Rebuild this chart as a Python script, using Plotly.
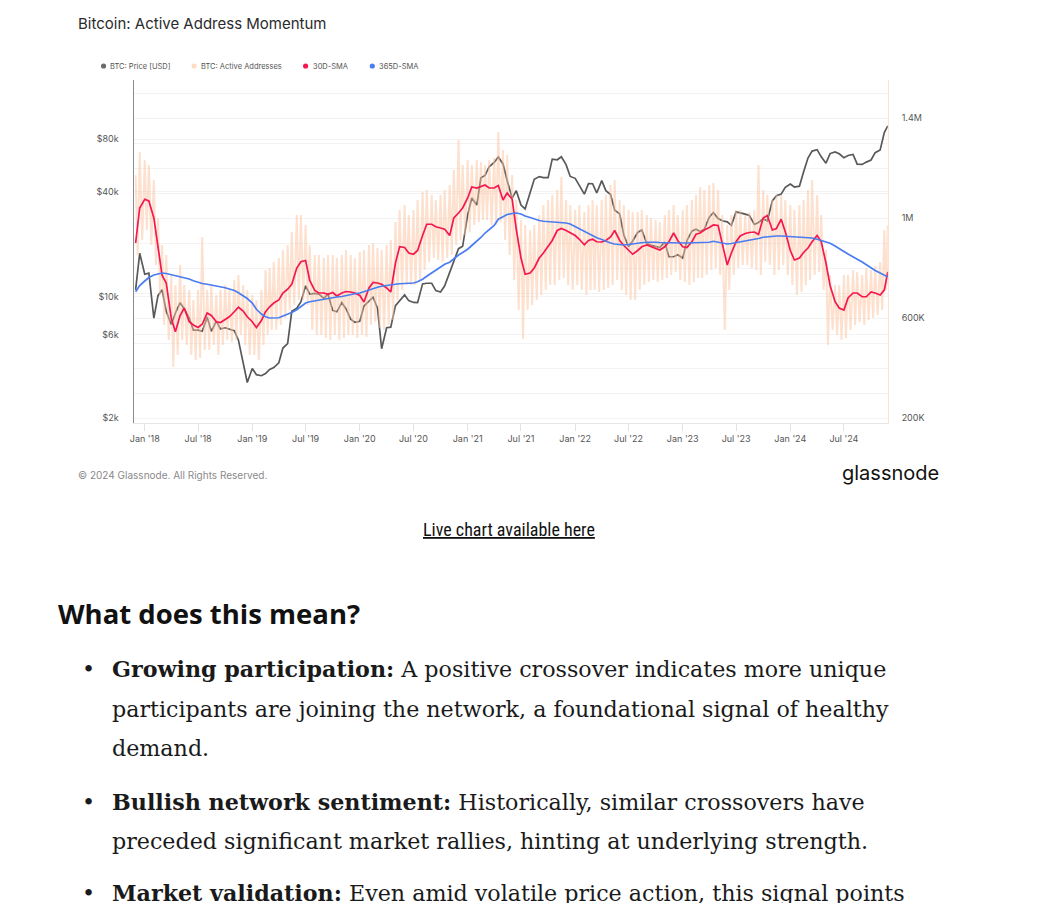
import pandas as pd
import plotly.graph_objects as go

# page body has an 8px margin: the figure is placed at (8, 8) in the window
OX, OY = 8, 8
W, H = 1053, 895


def px(x):
    return (x - OX) / W


def py(y):
    return 1 - (y - OY) / H


# ---------------- data (semi-monthly grid: 1st & 15th, plus final day) ----------------
dates = list(pd.date_range("2017-12-01", "2024-11-15", freq="SMS")) + [pd.Timestamp("2024-11-27")]

price_usd = [
    10900, 17700,
    13400, 13600, 7500, 10100, 10900, 8200, 6900, 8000, 9200, 8500, 7500, 6400,
    6400, 6300, 7600, 6300, 7200, 6500, 6600, 6500, 6350, 5600, 4200, 3200,
    3850, 3550, 3500, 3600, 3800, 3900, 4150, 5050, 5350, 8200, 8550, 9300,
    11500, 10300, 10400, 10300, 9750, 10300, 8300, 8150, 9200, 8500, 7400, 7100,
    7200, 8800, 9400, 9900, 8550, 5000, 6600, 6650, 8850, 9400, 10200, 9450,
    9230, 9200, 11800, 11900, 11900, 10800, 10600, 11500, 13700, 16000, 18800, 19400,
    29400, 36800, 33500, 48000, 49600, 55600, 58800, 63200, 57700, 46400, 36700, 40500,
    33500, 31800, 39900, 47100, 48800, 48100, 48100, 61500, 61000, 63500, 57200, 48900,
    47700, 43100, 38700, 44500, 44400, 39300, 46300, 40500, 38500, 31300, 29800, 22500,
    19300, 20800, 23300, 24100, 20100, 19700, 19300, 19100, 20500, 16900, 16900, 17350,
    16600, 20900, 23700, 24300, 23600, 24300, 28500, 30300, 28000, 27200, 26800, 25600,
    30600, 30300, 29700, 29200, 25900, 26600, 27900, 27100, 35400, 37900, 38700, 42300,
    44200, 42500, 43000, 51800, 62400, 68400, 69700, 63400, 58300, 66200, 67700, 66000,
    62700, 64500, 65400, 57600, 57300, 59100, 60800, 67000, 69500, 87500,
    95500,
]

# active addresses, thousands: upper and lower swing of the daily series
aa_hi = [
    1172, 1264,
    1232, 1212, 1152, 1000, 892, 852, 772, 732, 812, 732, 712, 672,
    712, 924, 712, 732, 692, 712, 732, 712, 752, 772, 732, 712,
    692, 672, 712, 792, 800, 824, 840, 872, 892, 944, 1012, 1012,
    972, 892, 852, 852, 840, 852, 852, 840, 852, 872, 852, 840,
    864, 872, 892, 900, 880, 872, 892, 912, 984, 1032, 1052, 1012,
    1032, 1072, 1104, 1112, 1092, 1072, 1092, 1112, 1132, 1192, 1312, 1212,
    1232, 1212, 1232, 1224, 1212, 1232, 1240, 1344, 1272, 1252, 1172, 1072,
    992, 972, 952, 972, 1012, 1052, 1072, 1092, 1112, 1164, 1072, 1052,
    1032, 1052, 1024, 1052, 1072, 1052, 1072, 1092, 1132, 1152, 1072, 1052,
    1032, 1024, 1024, 1032, 1012, 1000, 992, 984, 1012, 1032, 1052, 1012,
    1032, 1052, 1072, 1092, 1124, 1112, 1132, 1140, 1112, 1012, 972, 1012,
    1032, 1032, 1012, 1024, 1032, 1212, 1112, 1092, 1072, 1092, 1092, 1072,
    1052, 1032, 1052, 1072, 1112, 1152, 1092, 1012, 872, 772, 732, 732,
    772, 772, 792, 784, 772, 800, 792, 808, 824, 952,
    972,
]
aa_lo = [
    852, 912,
    952, 892, 812, 692, 572, 512, 404, 452, 512, 492, 452, 432,
    440, 472, 472, 492, 452, 492, 512, 504, 512, 532, 492, 452,
    452, 432, 492, 532, 552, 552, 572, 600, 632, 652, 672, 672,
    652, 552, 532, 532, 520, 512, 532, 512, 520, 532, 532, 520,
    532, 524, 572, 584, 560, 552, 572, 592, 672, 712, 732, 732,
    732, 752, 792, 824, 840, 832, 824, 840, 852, 892, 912, 932,
    944, 972, 984, 992, 992, 972, 972, 984, 912, 852, 752, 632,
    516, 632, 652, 672, 692, 712, 732, 732, 752, 760, 732, 712,
    732, 712, 692, 712, 712, 704, 712, 720, 732, 752, 712, 692,
    672, 672, 712, 732, 744, 752, 744, 752, 760, 772, 784, 752,
    744, 732, 744, 760, 760, 772, 792, 800, 772, 552, 712, 772,
    800, 812, 812, 800, 792, 772, 824, 812, 772, 792, 812, 772,
    732, 692, 704, 732, 752, 772, 784, 712, 492, 552, 532, 512,
    520, 552, 572, 584, 572, 592, 600, 612, 632, 712,
    732,
]

sma30 = [
    900, 1040,
    1075, 1068, 1000, 880, 770, 740, 600, 545, 610, 640, 585, 572,
    562, 575, 620, 610, 585, 582, 595, 605, 625, 643, 628, 605,
    585, 562, 590, 625, 645, 660, 672, 700, 715, 735, 800, 825,
    830, 750, 710, 700, 700, 695, 702, 688, 700, 706, 704, 700,
    690, 664, 720, 742, 740, 735, 720, 704, 820, 885, 882, 860,
    855, 870, 930, 975, 975, 965, 960, 955, 930, 1000, 1020, 1040,
    1080, 1124, 1120, 1125, 1132, 1120, 1120, 1130, 1072, 1100, 1075, 955,
    840, 775, 780, 800, 840, 860, 885, 910, 950, 958, 950, 942,
    930, 915, 893, 910, 915, 905, 904, 910, 924, 950, 910, 890,
    870, 855, 870, 885, 892, 886, 880, 872, 885, 905, 940, 910,
    885, 882, 905, 935, 940, 952, 962, 972, 970, 895, 812, 860,
    905, 928, 938, 942, 944, 934, 1000, 1010, 952, 958, 995, 945,
    870, 832, 840, 862, 880, 905, 930, 905, 820, 730, 665, 640,
    632, 680, 700, 700, 685, 685, 704, 700, 692, 712,
    784,
]

sma365 = [
    705, 730,
    748, 762, 772, 777, 780, 778, 773, 770, 766, 761, 756, 749,
    742, 738, 735, 732, 729, 725, 721, 716, 710, 701, 690, 678,
    660, 635, 616, 605, 600, 600, 601, 608, 615, 622, 633, 645,
    660, 665, 669, 672, 676, 680, 682, 684, 686, 690, 693, 697,
    700, 706, 712, 718, 723, 727, 731, 733, 735, 737, 738, 739,
    740, 745, 755, 767, 780, 792, 805, 815, 823, 838, 852, 862,
    875, 890, 906, 922, 940, 955, 970, 995, 1005, 1014, 1018, 1020,
    1016, 1008, 1002, 996, 990, 987, 986, 985, 984, 982, 980, 976,
    966, 956, 946, 937, 928, 921, 914, 906, 900, 896, 893, 892,
    894, 897, 899, 901, 903, 904, 903, 902, 901, 900, 900, 900,
    900, 900, 900, 900, 900, 901, 903, 907, 903, 898, 896, 898,
    901, 904, 907, 910, 914, 918, 923, 925, 927, 928, 928, 927,
    925, 924, 923, 922, 921, 920, 915, 910, 905, 899, 888, 876,
    866, 856, 846, 835, 824, 813, 802, 790, 780, 772,
    764,
]

price_ticks = [2000, 6000, 10000, 40000, 80000]
price_ticktext = ["$2k", "$6k", "$10k", "$40k", "$80k"]
aa_ticks = [200, 600, 1000, 1400]
aa_ticktext = ["200K", "600K", "1M", "1.4M"]
x_ticks = pd.date_range("2018-01-01", "2024-07-01", freq="6MS")

legend_items = [
    ("BTC: Price [USD]", "#6b6b6b", 99, 105),
    ("BTC: Active Addresses", "#fddcc4", 190, 197),
    ("30D-SMA", "#f5174f", 302, 309),
    ("365D-SMA", "#4a7cf2", 369, 376),
]

# ---------------- zigzag through the high / low swings of the daily series ----------------
aa_x, aa_y = [], []
for i, d in enumerate(dates):
    aa_x.append(d)
    aa_y.append(aa_hi[i])
    if i + 1 < len(dates):
        aa_x.append(d + (dates[i + 1] - d) / 2)
    else:
        aa_x.append(d)
    aa_y.append(aa_lo[i])

fig = go.Figure()
fig.add_trace(go.Scatter(x=dates, y=price_usd, mode="lines", name="BTC: Price [USD]",
                         line=dict(color="#595959", width=1.7), yaxis="y", showlegend=False))
fig.add_trace(go.Scatter(x=aa_x, y=aa_y, mode="lines", name="BTC: Active Addresses",
                         line=dict(color="rgba(251,196,158,0.5)", width=2), yaxis="y2", showlegend=False))
fig.add_trace(go.Scatter(x=dates, y=sma30, mode="lines", name="30D-SMA",
                         line=dict(color="#f5174f", width=1.7), yaxis="y2", showlegend=False))
fig.add_trace(go.Scatter(x=dates, y=sma365, mode="lines", name="365D-SMA",
                         line=dict(color="#4a7cf2", width=1.7), yaxis="y2", showlegend=False))

tickfont = dict(family="Inter, Roboto, sans-serif", size=9, color="#555555")
grid_c = "#f3f3f3"

fig.update_layout(
    width=W, height=H, autosize=False,
    margin=dict(l=0, r=0, t=0, b=0),
    paper_bgcolor="white", plot_bgcolor="white",
    showlegend=False,
    xaxis=dict(
        type="date", domain=[px(130), px(887)],
        range=["2017-11-27", "2024-11-27"],
        tickmode="array", tickvals=list(x_ticks), tickformat="%b '%y",
        tickfont=tickfont, ticks="outside", ticklen=7, tickcolor="#e2e2e2",
        showline=True, linecolor="#e6e6e6", linewidth=1,
        showgrid=False, zeroline=False,
    ),
    yaxis=dict(
        type="log", domain=[py(423), py(80)],
        range=[3.2723, 5.2436],
        tickmode="array", tickvals=price_ticks, ticktext=price_ticktext,
        tickfont=tickfont, ticks="", ticklabelstandoff=13,
        showline=True, linecolor="#8c8c8c", linewidth=1,
        showgrid=True, gridcolor=grid_c, zeroline=False,
    ),
    yaxis2=dict(
        overlaying="y", side="right", anchor="x",
        range=[180, 1552],
        tickmode="array", tickvals=aa_ticks, ticktext=aa_ticktext,
        tickfont=tickfont, ticks="", ticklabelstandoff=11,
        showline=True, linecolor="#fde2cd", linewidth=1,
        showgrid=True, gridcolor=grid_c, zeroline=False,
        minor=dict(tickmode="linear", tick0=0, dtick=100, showgrid=True, gridcolor=grid_c, ticks=""),
    ),
)

ann = []
shapes = []
# annotations render about 5px right of their left anchor (box padding)
PAD = 5

# title
ann.append(dict(text="Bitcoin: Active Address Momentum", x=px(76 - PAD), y=py(23), xref="paper", yref="paper",
                xanchor="left", yanchor="middle", showarrow=False,
                font=dict(family="Inter, sans-serif", size=15, color="#2b2b2b")))

# legend
for label, col, cx, tx in legend_items:
    r = 2.6
    shapes.append(dict(type="circle", xref="paper", yref="paper",
                       x0=px(cx - r), x1=px(cx + r), y0=py(66 + r), y1=py(66 - r),
                       fillcolor=col, line=dict(width=0)))
    ann.append(dict(text=label, x=px(tx - 2), y=py(66), xref="paper", yref="paper",
                    xanchor="left", yanchor="middle", showarrow=False,
                    font=dict(family="Inter, sans-serif", size=7.5, color="#555555")))

# footer
ann.append(dict(text="© 2024 Glassnode. All Rights Reserved.", x=px(76 - PAD), y=py(475), xref="paper", yref="paper",
                xanchor="left", yanchor="middle", showarrow=False,
                font=dict(family="Inter, sans-serif", size=10, color="#8a8a8a")))
ann.append(dict(text="glassnode", x=px(940), y=py(473), xref="paper", yref="paper",
                xanchor="right", yanchor="middle", showarrow=False,
                font=dict(family="Inter, sans-serif", size=20, color="#111111")))

ann.append(dict(text="<u>Live chart available here</u>", x=px(506), y=py(529), xref="paper", yref="paper",
                xanchor="center", yanchor="middle", showarrow=False,
                font=dict(family="Liberation Sans Narrow, Roboto Condensed, Liberation Sans, sans-serif",
                          size=18, color="#111111")))

ann.append(dict(text="<b>What does this mean?</b>", x=px(58 - PAD - 2), y=py(613), xref="paper", yref="paper",
                xanchor="left", yanchor="middle", showarrow=False,
                font=dict(family="Open Sans, sans-serif", size=27.5, color="#111111")))

body_font = dict(family="DejaVu Serif, serif", size=22.2, color="#1a1a1a")
bullet_lines = [
    (669, True, "<b>Growing participation:</b> A positive crossover indicates more unique"),
    (709, False, "participants are joining the network, a foundational signal of healthy"),
    (748, False, "demand."),
    (802, True, "<b>Bullish network sentiment:</b> Historically, similar crossovers have"),
    (841, False, "preceded significant market rallies, hinting at underlying strength."),
    (893, True, "<b>Market validation:</b> Even amid volatile price action, this signal points"),
]
for y, bullet, txt in bullet_lines:
    if bullet:
        ann.append(dict(text="•", x=px(88 - 4), y=py(y), xref="paper", yref="paper",
                        xanchor="center", yanchor="middle", showarrow=False, font=body_font))
    ann.append(dict(text=txt, x=px(112 - PAD - 2), y=py(y), xref="paper", yref="paper",
                    xanchor="left", yanchor="middle", showarrow=False, font=body_font))

fig.update_layout(annotations=ann, shapes=shapes)
fig.write_html("out.html")
